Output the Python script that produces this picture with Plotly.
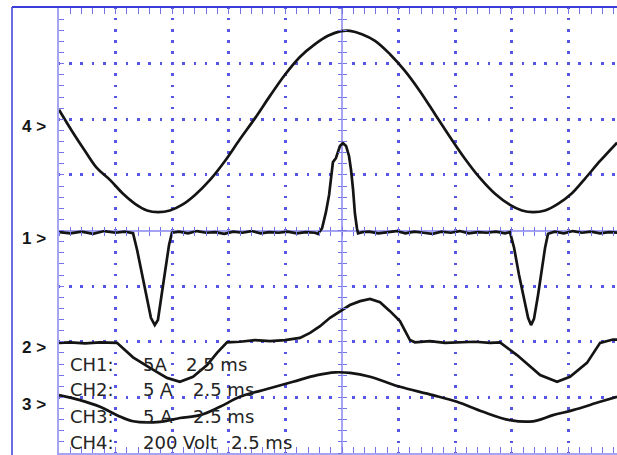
import plotly.graph_objects as go

# ---- data (time in ms, 2.5 ms/div; amplitude in screen divisions) ----
ch4_t = [-12.50, -11.93, -11.35, -10.82, -10.25, -9.67, -9.14, -8.61, -8.13, -7.60, -7.07, -6.49,
         -5.83, -5.17, -4.51, -3.84, -3.18, -2.52, -1.86, -1.19, -0.62, -0.09, 0.35, 0.88, 1.46,
         2.12, 2.78, 3.45, 4.11, 4.77, 5.43, 6.10, 6.76, 7.42, 7.95, 8.44, 8.97, 9.54, 10.16,
         10.73, 11.40, 12.15]
ch4_v = [2.17, 1.79, 1.43, 1.12, 0.91, 0.66, 0.48, 0.36, 0.33, 0.36, 0.46, 0.64, 0.91, 1.25,
         1.64, 2.02, 2.42, 2.80, 3.12, 3.35, 3.50, 3.58, 3.59, 3.53, 3.41, 3.17, 2.87, 2.50, 2.09,
         1.68, 1.29, 0.94, 0.66, 0.46, 0.36, 0.33, 0.36, 0.48, 0.67, 0.93, 1.25, 1.58]

ch1_t = [-12.50, -12.00, -11.50, -11.00, -10.50, -10.00, -9.60, -9.23, -9.05, -8.83, -8.61, -8.44,
         -8.27, -8.13, -7.95, -7.77, -7.64, -7.51, -7.20, -6.80, -6.40, -6.00, -5.60, -5.20, -4.80,
         -4.40, -4.00, -3.60, -3.20, -2.80, -2.40, -2.00, -1.60, -1.20, -1.06, -0.88, -0.71, -0.57,
         -0.49, -0.40, -0.27, -0.09, 0.04, 0.18, 0.31, 0.40, 0.49, 0.57, 0.66, 0.71, 0.90,
         1.20, 1.60, 2.00, 2.40, 2.80, 3.20, 3.60, 4.00, 4.40, 4.80, 5.20, 5.60, 6.00, 6.40, 6.80,
         7.20, 7.42, 7.60, 7.82, 8.04, 8.22, 8.35, 8.48, 8.66, 8.83, 8.97, 9.10,
         9.40, 9.80, 10.20, 10.60, 11.00, 11.40, 11.80, 12.15]
ch1_v = [-0.03, -0.05, -0.02, -0.06, -0.01, -0.04, -0.02, -0.05, -0.35, -0.80, -1.25, -1.57,
         -1.70, -1.61, -1.11, -0.57, -0.26, -0.04, -0.02, -0.05, -0.01, -0.04, -0.03, -0.06, -0.02,
         -0.04, -0.01, -0.05, -0.03, -0.04, -0.02, -0.05, -0.03, -0.04, -0.06, 0.04, 0.33, 0.64,
         0.91, 1.23, 1.30, 1.52, 1.57, 1.52, 1.34, 1.09, 0.73, 0.31, 0.04, -0.05, -0.03,
         -0.02, -0.05, -0.03, -0.01, -0.05, -0.02, -0.04, -0.06, -0.02, -0.04, -0.01, -0.05, -0.03,
         -0.04, -0.02, -0.05, -0.03, -0.31, -0.80, -1.25, -1.57, -1.70, -1.59, -1.16, -0.67, -0.31,
         -0.06, -0.02, -0.05, -0.01, -0.04, -0.02, -0.05, -0.03, -0.04]

ch2_t = [-12.50, -12.01, -11.35, -10.69, -9.94, -9.23, -8.48, -7.73, -7.16, -6.58, -5.96, -5.52,
         -5.08, -4.51, -3.84, -3.18, -2.52, -1.86, -1.41, -0.97, -0.53, -0.09, 0.35, 0.80, 1.24,
         1.68, 2.12, 2.56, 2.78, 3.00, 3.22, 3.89, 4.55, 5.21, 5.87, 6.54, 6.98, 7.73, 8.30, 8.75,
         9.50, 10.07, 10.82, 11.40, 11.97, 12.15]
ch2_v = [-2.02, -2.01, -2.03, -2.01, -2.02, -2.28, -2.47, -2.65, -2.72, -2.63, -2.42, -2.20,
         -2.01, -2.00, -1.97, -1.99, -1.97, -1.93, -1.84, -1.72, -1.57, -1.45, -1.34, -1.27, -1.23,
         -1.29, -1.45, -1.63, -1.79, -1.97, -2.01, -1.99, -2.02, -2.01, -2.00, -2.02, -2.01, -2.24,
         -2.45, -2.60, -2.72, -2.63, -2.38, -2.02, -1.96, -1.96]

ch3_t = [-12.50, -11.57, -10.69, -9.94, -9.23, -8.04, -7.16, -6.27, -5.39, -4.51, -3.31, -2.16,
         -1.10, -0.31, 0.35, 1.24, 1.90, 2.56, 4.02, 5.08, 6.23, 7.42, 8.44, 9.32, 10.20, 11.40, 12.15]
ch3_v = [-2.96, -3.05, -3.17, -3.32, -3.43, -3.44, -3.37, -3.32, -3.17, -2.99, -2.85, -2.72,
         -2.60, -2.55, -2.56, -2.63, -2.72, -2.81, -2.96, -3.08, -3.26, -3.41, -3.43, -3.32, -3.23,
         -3.08, -2.99]

marker_labels = ["4 >", "1 >", "2 >", "3 >"]
info_names = ["CH1:", "CH2:", "CH3:", "CH4:"]
info_scales = ["5A", "5 A", "5 A", "200 Volt"]
info_times = ["2.5 ms", "2.5 ms", "2.5 ms", "2.5 ms"]

# ---- layout positions / styles ----
marker_label_y = [0.7326, 0.4809, 0.2382, 0.1101]
info_row_y = [0.200, 0.1416, 0.0831, 0.0225]
info_scale_x = 0.1487
info_time_x = [0.2258, 0.2384, 0.2384, 0.3065]

GRID = "#5656e2"
LIGHT = "#a4a4f2"
TICK = "#7474e8"
FRAME = "#3c3cdc"
TRACE = "#141414"

x_range = [-12.5, 12.147]
y_range = [-4, 4]

fig = go.Figure()
for t, v, shape in [(ch4_t, ch4_v, "spline"), (ch1_t, ch1_v, "linear"),
                    (ch2_t, ch2_v, "linear"), (ch3_t, ch3_v, "spline")]:
    fig.add_trace(go.Scatter(x=t, y=v, mode="lines", line=dict(color=TRACE, width=2.7, shape=shape),
                             showlegend=False, hoverinfo="skip"))

# helper traces so the centre tick axes are drawn
for xa, ya in [("x2", "y"), ("x3", "y"), ("x", "y2"), ("x", "y3")]:
    fig.add_trace(go.Scatter(x=[None], y=[None], xaxis=xa, yaxis=ya, showlegend=False,
                             hoverinfo="skip"))

fig.update_layout(
    width=617, height=455,
    margin=dict(l=59, r=0, t=8, b=2),
    plot_bgcolor="white", paper_bgcolor="white",
    xaxis=dict(range=x_range, fixedrange=True, tick0=0, dtick=2.5, ticks="inside", ticklen=6,
               tickcolor=TICK, tickwidth=1, showticklabels=False,
               minor=dict(tick0=0, dtick=0.5, ticks="inside", ticklen=6, tickcolor=TICK,
                          tickwidth=1, showgrid=False),
               showgrid=True, gridcolor=GRID, gridwidth=2.5, griddash="1.3px,8.525px,1.3px,0px",
               zeroline=True, zerolinecolor=LIGHT, zerolinewidth=1.5,
               showline=True, linecolor=LIGHT, linewidth=1.5, mirror="ticks"),
    yaxis=dict(range=y_range, fixedrange=True, tick0=0, dtick=1, ticks="inside", ticklen=5,
               tickcolor=TICK, tickwidth=1, showticklabels=False,
               minor=dict(tick0=0, dtick=0.2, ticks="inside", ticklen=5, tickcolor=TICK,
                          tickwidth=1, showgrid=False),
               showgrid=True, gridcolor=GRID, gridwidth=2.5, griddash="1.3px,8.72px,1.3px,0px",
               zeroline=True, zerolinecolor=LIGHT, zerolinewidth=1.5,
               showline=True, linecolor=LIGHT, linewidth=1.5, mirror=False),
    xaxis2=dict(range=x_range, fixedrange=True, overlaying="x", anchor="free", position=0.5,
                side="bottom", tick0=0, dtick=0.5, ticks="outside", ticklen=4, tickcolor=TICK,
                showticklabels=False, showgrid=False, zeroline=False, showline=False),
    xaxis3=dict(range=x_range, fixedrange=True, overlaying="x", anchor="free", position=0.5,
                side="bottom", tick0=0, dtick=0.5, ticks="inside", ticklen=4, tickcolor=TICK,
                showticklabels=False, showgrid=False, zeroline=False, showline=False),
    yaxis2=dict(range=y_range, fixedrange=True, overlaying="y", anchor="free", position=0.50716,
                side="left", tick0=0, dtick=0.2, ticks="outside", ticklen=4, tickcolor=TICK,
                showticklabels=False, showgrid=False, zeroline=False, showline=False),
    yaxis3=dict(range=y_range, fixedrange=True, overlaying="y", anchor="free", position=0.50716,
                side="left", tick0=0, dtick=0.2, ticks="inside", ticklen=4, tickcolor=TICK,
                showticklabels=False, showgrid=False, zeroline=False, showline=False),
)

# outer instrument frame
fig.add_shape(type="line", xref="paper", yref="paper", x0=-0.0842, x1=-0.0842, y0=-0.02, y1=1.0022,
              line=dict(color=FRAME, width=1.5))
fig.add_shape(type="line", xref="paper", yref="paper", x0=-0.0842, x1=1.0, y0=1.0022, y1=1.0022,
              line=dict(color=FRAME, width=2.2))

for lab, yy in zip(marker_labels, marker_label_y):
    fig.add_annotation(text="<b>" + lab + "</b>", xref="paper", yref="paper", x=-0.0197, y=yy,
                       xanchor="right", yanchor="middle", showarrow=False,
                       font=dict(family="Liberation Sans, Arial, sans-serif", size=17, color="#161616"))

info_font = dict(family="DejaVu Sans, sans-serif", size=18, color="#242424")
for name, scale, tm, yy, tx in zip(info_names, info_scales, info_times, info_row_y, info_time_x):
    fig.add_annotation(text=name, xref="paper", yref="paper", x=0.0179, y=yy, xanchor="left",
                       yanchor="middle", showarrow=False, font=info_font, borderpad=0)
    fig.add_annotation(text=scale, xref="paper", yref="paper", x=info_scale_x, y=yy, xanchor="left",
                       yanchor="middle", showarrow=False, font=info_font, borderpad=0)
    fig.add_annotation(text=tm, xref="paper", yref="paper", x=tx, y=yy, xanchor="left",
                       yanchor="middle", showarrow=False, font=info_font, borderpad=0)

fig.write_html("out.html", config={"displayModeBar": False},
               post_script="document.body.style.margin='0px';document.body.style.overflow='hidden';")
